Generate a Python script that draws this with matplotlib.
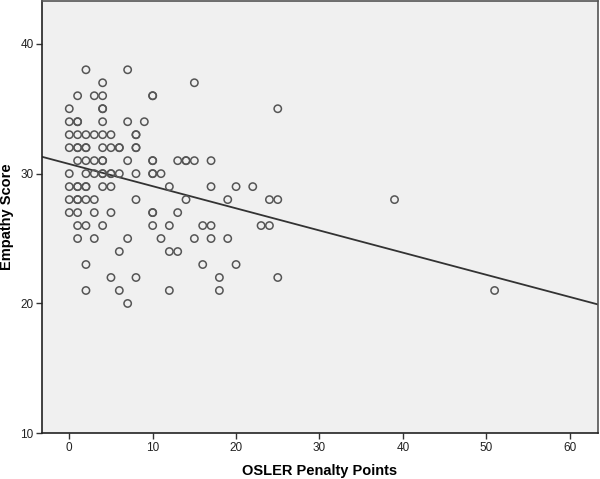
import numpy as np
import matplotlib.pyplot as plt

plt.rcParams['font.family'] = ['Liberation Sans', 'DejaVu Sans']

# OSLER penalty points vs empathy score (repeated pairs appear bolder)
penalty = [2, 7, 4, 15,
           1, 3, 4, 10, 10,
           0, 4, 4, 25,
           0, 1, 1, 4, 7, 9,
           0, 1, 2, 3, 4, 5, 8, 8,
           0, 1, 1, 2, 2, 4, 5, 6, 6, 8, 8,
           1, 2, 3, 4, 4, 7, 10, 10, 13, 14, 14, 15, 17,
           0, 2, 3, 4, 4, 5, 5, 6, 8, 10, 10, 11,
           0, 1, 1, 2, 2, 4, 5, 12, 17, 20, 22,
           0, 1, 1, 2, 3, 8, 14, 19, 24, 25, 39,
           0, 1, 3, 5, 10, 10, 13,
           1, 2, 4, 10, 12, 16, 17, 23, 24,
           1, 3, 7, 11, 15, 17, 19,
           6, 12, 13,
           2, 16, 20,
           5, 8, 18, 25,
           2, 6, 12, 18, 51,
           7]
empathy = [38, 38, 37, 37,
           36, 36, 36, 36, 36,
           35, 35, 35, 35,
           34, 34, 34, 34, 34, 34,
           33, 33, 33, 33, 33, 33, 33, 33,
           32, 32, 32, 32, 32, 32, 32, 32, 32, 32, 32,
           31, 31, 31, 31, 31, 31, 31, 31, 31, 31, 31, 31, 31,
           30, 30, 30, 30, 30, 30, 30, 30, 30, 30, 30, 30,
           29, 29, 29, 29, 29, 29, 29, 29, 29, 29, 29,
           28, 28, 28, 28, 28, 28, 28, 28, 28, 28, 28,
           27, 27, 27, 27, 27, 27, 27,
           26, 26, 26, 26, 26, 26, 26, 26, 26,
           25, 25, 25, 25, 25, 25, 25,
           24, 24, 24,
           23, 23, 23,
           22, 22, 22, 22,
           21, 21, 21, 21, 21,
           20]

# fitted linear regression line
fit_intercept = 30.74
fit_slope = -0.1706

x_range = (-3.27, 63.4)
y_range = (10, 43.3)

fig = plt.figure(figsize=(6.0, 4.79), dpi=100)
ax = fig.add_axes([0.07, 0.0954, 0.9267, 0.9026])
ax.set_facecolor('#f0f0f0')

ax.scatter(penalty, empathy, s=28, facecolors='none', edgecolors='#555555',
           linewidths=1.1, zorder=3)

xs = np.array(x_range)
ax.plot(xs, fit_intercept + fit_slope * xs, color='#333333', linewidth=1.3, zorder=2)

ax.set_xlim(*x_range)
ax.set_ylim(*y_range)
ax.set_xticks([0, 10, 20, 30, 40, 50, 60])
ax.set_yticks([10, 20, 30, 40])
ax.tick_params(direction='out', length=4, width=1, color='#333333',
               labelsize=8.5, labelcolor='#222222', pad=2)

for s in ax.spines.values():
    s.set_color('#555555')
    s.set_linewidth(1.2)
ax.spines['left'].set_color('#222222')
ax.spines['bottom'].set_color('#222222')

ax.set_xlabel('OSLER Penalty Points', fontsize=10.5, fontweight='bold')
ax.set_ylabel('Empathy Score', fontsize=10.5, fontweight='bold')
ax.xaxis.set_label_coords(0.5, -0.072)
ax.yaxis.set_label_coords(-0.05, 0.5)

fig.savefig('out.png', dpi=100)
